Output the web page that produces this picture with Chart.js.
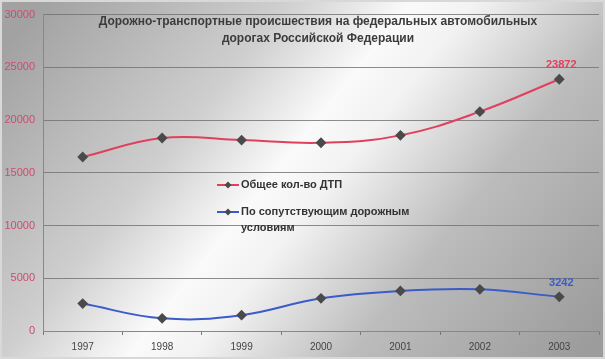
<!DOCTYPE html>
<html lang="ru">
<head>
  <meta charset="UTF-8">
  <title>ДТП на федеральных дорогах</title>
  <script src="https://cdn.jsdelivr.net/npm/chart.js"></script>
  <style>
    body { margin: 0; padding: 0; background: #fff; }
    .wrap { width: 605px; height: 359px; position: relative; }
  </style>
</head>
<body>
  <div class="wrap"><canvas id="chart" width="605" height="359"></canvas></div>

  <script>
    // Data
    const years = ['1997', '1998', '1999', '2000', '2001', '2002', '2003'];
    const totalAccidents = [16500, 18300, 18100, 17850, 18550, 20800, 23872];
    const roadConditions = [2600, 1200, 1500, 3100, 3800, 3950, 3242];
    const titleLines = ['Дорожно-транспортные происшествия на федеральных автомобильных', 'дорогах Российской Федерации'];
    const seriesNames = ['Общее кол-во ДТП', ['По сопутствующим дорожным', 'условиям']];

    const redLine = '#e0405e';
    const blueLine = '#3a5cc8';
    const markerColor = '#4a4a4a';

    // Grey background with a light diagonal streak
    const backdrop = {
      id: 'backdrop',
      beforeDraw(chart) {
        const ctx = chart.ctx;
        const g = ctx.createLinearGradient(60, -20, 560, 380);
        g.addColorStop(0, '#a2a2a2');
        g.addColorStop(0.3, '#cfcfcf');
        g.addColorStop(0.45, '#fafafa');
        g.addColorStop(0.53, '#f2f2f2');
        g.addColorStop(0.72, '#bcbcbc');
        g.addColorStop(1, '#9c9c9c');
        ctx.save();
        ctx.fillStyle = g;
        ctx.fillRect(0, 0, chart.width, chart.height);
        ctx.strokeStyle = '#d8d8d8';
        ctx.lineWidth = 2;
        ctx.strokeRect(1, 1, chart.width - 2, chart.height - 2);
        ctx.restore();
      }
    };

    // Title, legend inside the plot, and end labels
    const extras = {
      id: 'extras',
      afterDraw(chart) {
        const ctx = chart.ctx;
        ctx.save();
        ctx.fillStyle = '#3c3c3c';
        ctx.font = 'bold 12px "Liberation Sans", Arial, sans-serif';
        ctx.textAlign = 'center';
        ctx.textBaseline = 'middle';
        ctx.fillText(titleLines[0], 318, 22);
        ctx.fillText(titleLines[1], 318, 39);

        // legend
        ctx.font = 'bold 11px "Liberation Sans", Arial, sans-serif';
        ctx.textAlign = 'left';
        const items = [
          { color: redLine, y: 185, text: seriesNames[0] },
          { color: blueLine, y: 212, text: seriesNames[1] }
        ];
        items.forEach(it => {
          ctx.strokeStyle = it.color;
          ctx.lineWidth = 2;
          ctx.beginPath();
          ctx.moveTo(217, it.y);
          ctx.lineTo(239, it.y);
          ctx.stroke();
          ctx.fillStyle = markerColor;
          ctx.beginPath();
          ctx.moveTo(228, it.y - 3.5);
          ctx.lineTo(231.5, it.y);
          ctx.lineTo(228, it.y + 3.5);
          ctx.lineTo(224.5, it.y);
          ctx.closePath();
          ctx.fill();
          ctx.fillStyle = '#333';
          const lines = Array.isArray(it.text) ? it.text : [it.text];
          lines.forEach((t, i) => ctx.fillText(t, 241, it.y + i * 16));
        });

        // labels on the last points
        ctx.font = 'bold 11px "Liberation Sans", Arial, sans-serif';
        ctx.textAlign = 'center';
        chart.data.datasets.forEach((ds, i) => {
          const meta = chart.getDatasetMeta(i);
          const last = meta.data[meta.data.length - 1];
          ctx.fillStyle = ds.borderColor;
          ctx.fillText(String(ds.data[ds.data.length - 1]), last.x + 2, last.y - 14);
        });
        ctx.restore();
      }
    };

    new Chart(document.getElementById('chart').getContext('2d'), {
      type: 'line',
      data: {
        labels: years,
        datasets: [
          {
            label: 'Общее кол-во ДТП',
            data: totalAccidents,
            borderColor: redLine,
            borderWidth: 2,
            tension: 0.4,
            pointStyle: 'rectRot',
            pointRadius: 4,
            pointBackgroundColor: markerColor,
            pointBorderColor: markerColor,
            fill: false
          },
          {
            label: 'По сопутствующим дорожным условиям',
            data: roadConditions,
            borderColor: blueLine,
            borderWidth: 2,
            tension: 0.4,
            pointStyle: 'rectRot',
            pointRadius: 4,
            pointBackgroundColor: markerColor,
            pointBorderColor: markerColor,
            fill: false
          }
        ]
      },
      options: {
        responsive: false,
        animation: false,
        layout: { padding: { left: 0, right: 5, top: 13, bottom: 0 } },
        plugins: {
          legend: { display: false },
          title: { display: false },
          tooltip: { enabled: false }
        },
        scales: {
          x: {
            offset: true,
            afterFit: s => { s.height = 28; },
            grid: { offset: true, drawOnChartArea: false, color: '#777', tickLength: 4 },
            border: { color: '#888' },
            ticks: { color: '#444', font: { size: 10, family: '"Liberation Sans", Arial, sans-serif' }, padding: 6 }
          },
          y: {
            min: 0,
            max: 30000,
            afterFit: s => { s.width = 43; },
            ticks: {
              stepSize: 5000,
              color: '#d04a6e',
              font: { size: 11, family: '"Liberation Sans", Arial, sans-serif' },
              padding: 8,
              callback: v => String(v)
            },
            grid: { color: '#707070', lineWidth: 0.8, drawTicks: false },
            border: { color: '#888' }
          }
        }
      },
      plugins: [backdrop, extras]
    });
  </script>
</body>
</html>
